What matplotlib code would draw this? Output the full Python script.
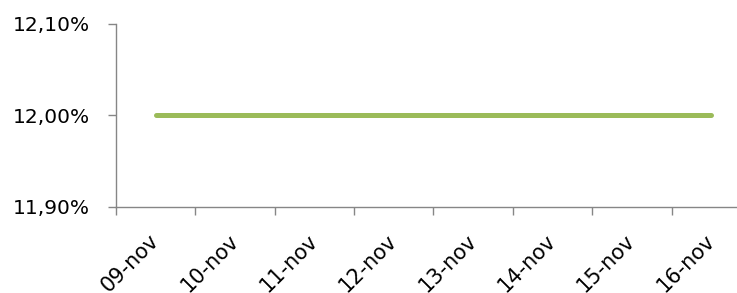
import matplotlib
matplotlib.use("Agg")
import matplotlib.pyplot as plt
import numpy as np

dates = ["09-nov", "10-nov", "11-nov", "12-nov", "13-nov", "14-nov", "15-nov", "16-nov"]
rates = [12.00, 12.00, 12.00, 12.00, 12.00, 12.00, 12.00, 12.00]
yticks = [11.90, 12.00, 12.10]

plt.rcParams['font.family'] = ['DejaVu Sans']

fig = plt.figure(figsize=(7.37, 2.93), dpi=100)
ax = fig.add_axes([116/737, 1 - 207/293, 635/737, 183/293])

x = np.arange(len(dates))
ax.plot(x, rates, color="#9BBB59", linewidth=3.6, solid_capstyle="round")

ax.set_xlim(-0.5, len(dates) - 0.5)
ax.set_ylim(11.90, 12.10)
ax.set_yticks(yticks)
ax.set_yticklabels([f"{v:.2f}%".replace(".", ",") for v in yticks], fontsize=14.5)

ax.set_xticks(x)
ax.set_xticklabels(dates, rotation=45, ha="right", va="center",
                   rotation_mode="anchor", fontsize=15)
ax.tick_params(axis="x", which="major", length=0, pad=22)
ax.set_xticks(np.arange(-0.5, len(dates), 1), minor=True)
ax.tick_params(axis="x", which="minor", length=6, color="#868686", width=1)
ax.tick_params(axis="y", length=6, color="#868686", width=1, pad=13)

for side in ["top", "right"]:
    ax.spines[side].set_visible(False)
for side in ["left", "bottom"]:
    ax.spines[side].set_color("#868686")
    ax.spines[side].set_linewidth(1)

fig.savefig("out.png", dpi=100)
